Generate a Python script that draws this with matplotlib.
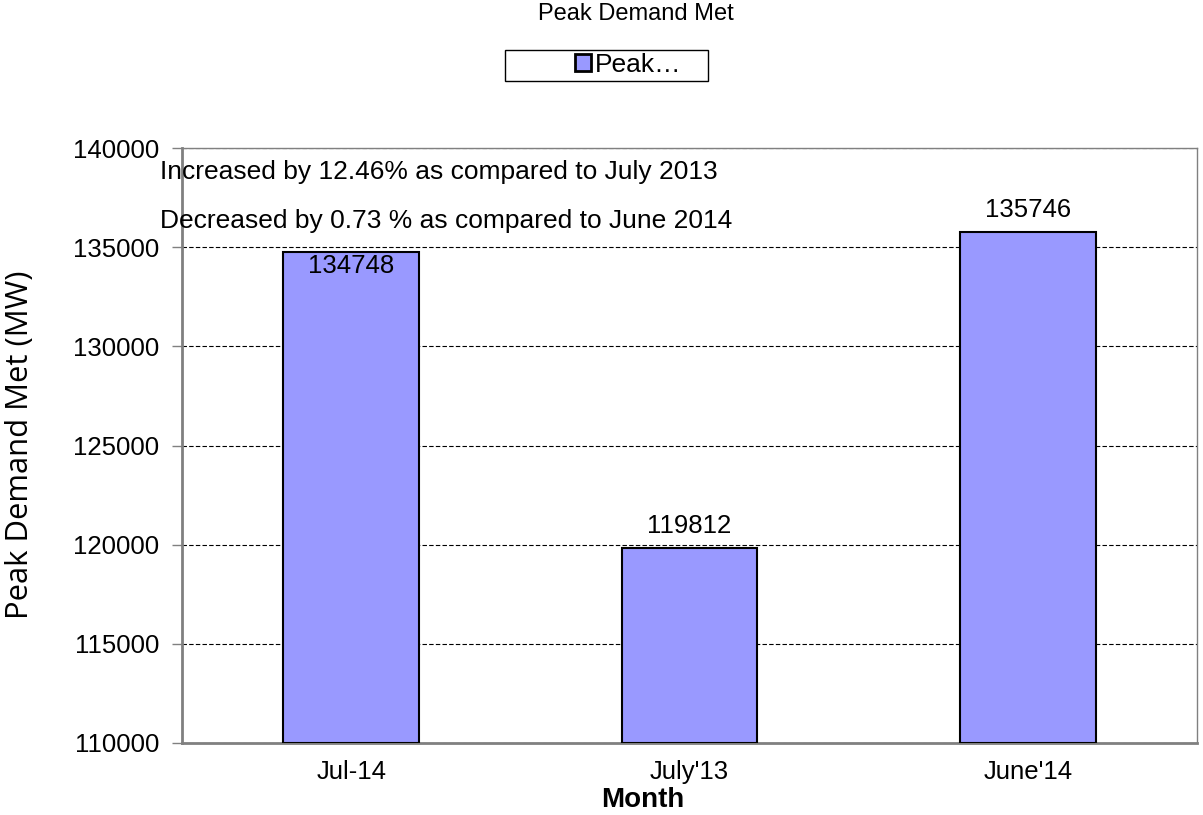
import matplotlib
matplotlib.use("Agg")
import matplotlib.pyplot as plt
from matplotlib.patches import Patch, Rectangle

plt.rcParams['font.family'] = ['Liberation Sans', 'DejaVu Sans']

categories = ["Jul-14", "July'13", "June'14"]
values = [134748, 119812, 135746]
yticks = [110000, 115000, 120000, 125000, 130000, 135000, 140000]
notes = ["Increased by 12.46% as compared to July 2013",
         "Decreased by 0.73 % as compared to June 2014"]

FS = 18.5
W, H = 1203, 815
fig = plt.figure(figsize=(W/100, H/100), dpi=100)
ax = fig.add_axes([182/W, 1-743/H, (1197-182)/W, (743-148)/H])

x = list(range(len(categories)))
ax.bar(x, [v - 110000 for v in values], bottom=110000, width=0.4,
       color='#9999ff', edgecolor='black', linewidth=1.5, zorder=3)
ax.set_xlim(-0.5, 2.5)
ax.set_ylim(110000, 140000)
ax.set_yticks(yticks)
ax.set_yticklabels([str(t) for t in yticks], fontsize=FS)
ax.set_xticks(x)
ax.set_xticklabels(categories, fontsize=FS)
ax.tick_params(axis='x', length=0, pad=12)
ax.tick_params(axis='y', length=7, width=1, color='#808080', pad=9.5)
ax.yaxis.grid(True, linestyle=(0, (4, 2)), color='black', linewidth=0.8, zorder=0)
ax.set_axisbelow(True)
for s in ['top', 'right']:
    ax.spines[s].set_color('#808080')
    ax.spines[s].set_linewidth(1)
for s in ['left', 'bottom']:
    ax.spines[s].set_color('#808080')
    ax.spines[s].set_linewidth(2)

for i, v in enumerate(values):
    if i == 0:
        ax.text(i, v - 100, str(v), ha='center', va='top', fontsize=FS, zorder=5)
    else:
        ax.text(i, v + 500, str(v), ha='center', va='bottom', fontsize=FS, zorder=5)

fig.text(160/W, 1-172/H, notes[0], ha='left', va='center', fontsize=19)
fig.text(160/W, 1-221/H, notes[1], ha='left', va='center', fontsize=19)

fig.text(20/W, 1-445/H, "Peak Demand Met (MW)", ha='center', va='center',
         rotation=90, fontsize=22.3, family=['Open Sans', 'DejaVu Sans'])
fig.text(643/W, 1-800/H, "Month", ha='center', va='center',
         fontsize=20, fontweight='bold')
fig.text(636/W, 1-14/H, "Peak Demand Met", ha='center', va='center', fontsize=17)

# legend frame
fig.patches.append(Rectangle((505/W, 1-81/H), (708-505)/W, (81-50)/H,
                             transform=fig.transFigure, facecolor='white',
                             edgecolor='black', linewidth=1, zorder=1))
leg = fig.legend(handles=[Patch(facecolor='#9999ff', edgecolor='black', linewidth=2, label='Peak…')],
                 loc='center', bbox_to_anchor=(628/W, 1-65/H), fontsize=19,
                 frameon=False, handlelength=0.6,
                 handleheight=0.6, handletextpad=0.15, borderpad=0.2,
                 borderaxespad=0)

fig.savefig("out.png", dpi=100)
